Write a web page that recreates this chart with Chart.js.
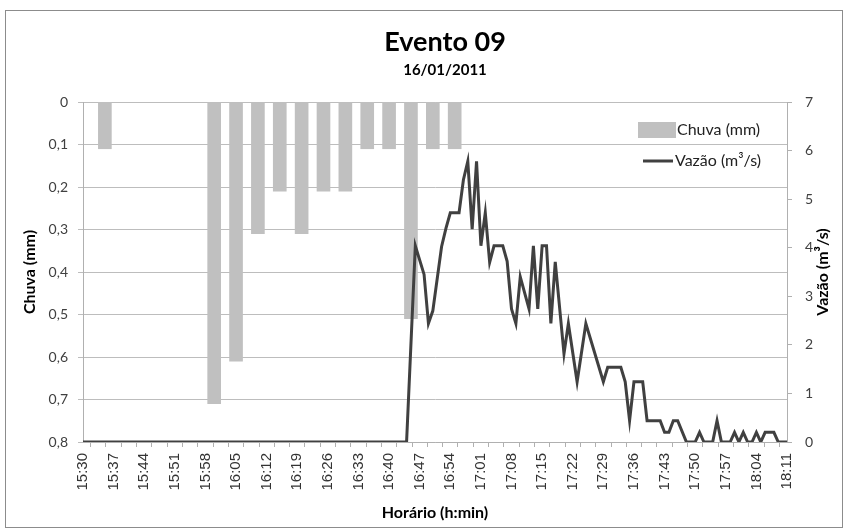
<!DOCTYPE html>
<html>
<head>
<meta charset="utf-8">
<script src="https://cdn.jsdelivr.net/npm/chart.js@4.4.0/dist/chart.umd.min.js"></script>
<style>
  body { margin: 0; background: #fff; }
</style>
</head>
<body>
<canvas id="chart" width="848" height="532"></canvas>
<script>
// chuva (mm) a cada 5 min
const rainTimes = ['15:35', '16:00', '16:05', '16:10', '16:15', '16:20', '16:25', '16:30', '16:35', '16:40', '16:45', '16:50', '16:55'];
const rainValues = [0.11, 0.71, 0.61, 0.31, 0.21, 0.31, 0.21, 0.21, 0.11, 0.11, 0.51, 0.11, 0.11];

// vazao (m3/s)
const flowTimes = ['15:30', '16:44', '16:46', '16:48', '16:49', '16:50', '16:52', '16:53', '16:54', '16:56', '16:57', '16:58', '16:59',
  '17:00', '17:01', '17:02', '17:03', '17:04', '17:06', '17:07', '17:08', '17:09', '17:10', '17:12', '17:13', '17:14', '17:15',
  '17:16', '17:17', '17:18', '17:20', '17:21', '17:23', '17:25', '17:29', '17:30', '17:33', '17:34', '17:35', '17:36', '17:38',
  '17:39', '17:42', '17:43', '17:44', '17:45', '17:46', '17:48', '17:50', '17:51', '17:52', '17:54', '17:55', '17:56', '17:58',
  '17:59', '18:00', '18:01', '18:02', '18:03', '18:04', '18:05', '18:06', '18:08', '18:09', '18:11'];
const flowValues = [0, 0, 4.04, 3.45, 2.44, 2.70, 4.02, 4.40, 4.72, 4.72, 5.40, 5.78, 4.38,
  5.78, 4.04, 4.72, 3.70, 4.04, 4.04, 3.72, 2.74, 2.44, 3.40, 2.74, 4.04, 2.74, 4.04,
  4.04, 2.44, 3.71, 1.82, 2.44, 1.24, 2.44, 1.24, 1.54, 1.54, 1.24, 0.44, 1.24, 1.24,
  0.44, 0.44, 0.20, 0.20, 0.44, 0.44, 0, 0, 0.20, 0, 0, 0.44, 0, 0,
  0.20, 0, 0.20, 0, 0, 0.20, 0, 0.20, 0.20, 0, 0];

const startTime = '15:30';
const endTime = '18:11';

function toMin(t) {
  var p = t.split(':');
  var s = startTime.split(':');
  return (parseInt(p[0]) * 60 + parseInt(p[1])) - (parseInt(s[0]) * 60 + parseInt(s[1]));
}
function toLabel(m) {
  var s = startTime.split(':');
  var total = parseInt(s[0]) * 60 + parseInt(s[1]) + m;
  var h = Math.floor(total / 60), mm = total % 60;
  return h + ':' + (mm < 10 ? '0' : '') + mm;
}

const calibri = 'Lato, "Open Sans", sans-serif';

// moldura, titulos e legenda dentro do grafico
const extras = {
  id: 'extras',
  beforeDraw(chart) {
    const ctx = chart.ctx;
    ctx.save();
    ctx.fillStyle = '#fff';
    ctx.fillRect(0, 0, chart.width, chart.height);
    ctx.strokeStyle = '#8c8c8c';
    ctx.lineWidth = 1;
    ctx.strokeRect(5.5, 10.5, 837, 517);
    ctx.restore();
  },
  afterDraw(chart) {
    const ctx = chart.ctx;
    const a = chart.chartArea;
    ctx.save();
    ctx.fillStyle = '#000';
    ctx.textAlign = 'center';
    ctx.textBaseline = 'alphabetic';
    ctx.font = 'bold 27px ' + calibri;
    ctx.fillText('Evento 09', 445, 51);
    ctx.font = 'bold 15px ' + calibri;
    ctx.fillText('16/01/2011', 445, 75);
    ctx.restore();

    ctx.save();
    ctx.fillStyle = '#000';
    ctx.font = 'bold 16px ' + calibri;
    ctx.textAlign = 'center';
    ctx.textBaseline = 'middle';
    ctx.translate(823, (a.top + a.bottom) / 2);
    ctx.rotate(-Math.PI / 2);
    ctx.fillText('Vazão (m³/s)', 0, 0);
    ctx.restore();

    ctx.save();
    var lx = a.right - 149, ly = a.top + 20;
    ctx.fillStyle = '#c0c0c0';
    ctx.fillRect(lx, ly, 38, 16);
    ctx.strokeStyle = '#404040';
    ctx.lineWidth = 3;
    ctx.beginPath();
    ctx.moveTo(lx + 5, ly + 39);
    ctx.lineTo(lx + 35, ly + 39);
    ctx.stroke();
    ctx.fillStyle = '#222';
    ctx.font = '16px ' + calibri;
    ctx.textAlign = 'left';
    ctx.textBaseline = 'middle';
    ctx.fillText('Chuva (mm)', lx + 39, ly + 8);
    ctx.fillText('Vazão (m³/s)', lx + 37, ly + 39);
    ctx.restore();
  }
};

new Chart(document.getElementById('chart'), {
  type: 'bar',
  data: {
    datasets: [
      {
        type: 'line',
        label: 'Vazão (m³/s)',
        data: flowTimes.map((t, i) => ({ x: toMin(t), y: flowValues[i] })),
        borderColor: '#404040',
        borderWidth: 3,
        pointRadius: 0,
        tension: 0,
        yAxisID: 'y2'
      },
      {
        type: 'bar',
        label: 'Chuva (mm)',
        data: rainTimes.map((t, i) => ({ x: toMin(t), y: rainValues[i] })),
        backgroundColor: '#c0c0c0',
        barThickness: 13,
        yAxisID: 'y'
      }
    ]
  },
  options: {
    responsive: false,
    animation: false,
    layout: { padding: { top: 102, left: 0, right: 0, bottom: 0 } },
    plugins: {
      legend: { display: false },
      tooltip: { enabled: false }
    },
    scales: {
      x: {
        type: 'linear',
        min: 0,
        max: toMin(endTime),
        offset: false,
        afterFit: (s) => { s.height = 90; },
        ticks: {
          stepSize: 3.5,
          autoSkip: false,
          maxRotation: 90,
          minRotation: 90,
          padding: 6,
          color: '#333',
          font: { family: '"Liberation Sans", Arial, sans-serif', size: 15 },
          callback: (v) => (v % 7 === 0 ? toLabel(v) : '')
        },
        grid: { drawOnChartArea: false, tickLength: 5, color: '#b0b0b0' },
        border: { color: '#b0b0b0' },
        title: {
          display: true,
          text: 'Horário (h:min)',
          color: '#000',
          font: { family: calibri, size: 16, weight: 'bold' },
          padding: { top: 0, bottom: 10 }
        }
      },
      y: {
        position: 'left',
        reverse: true,
        min: 0,
        max: 0.8,
        afterFit: (s) => { s.width = 83; },
        ticks: {
          stepSize: 0.1,
          padding: 10,
          color: '#404040',
          font: { family: calibri, size: 14 },
          callback: (v) => (v === 0 ? '0' : v.toFixed(1).replace('.', ','))
        },
        grid: { color: '#bdbdbd', tickLength: 5 },
        border: { color: '#b0b0b0' },
        title: {
          display: true,
          text: 'Chuva (mm)',
          color: '#000',
          font: { family: calibri, size: 16, weight: 'bold' },
          padding: { top: 20, bottom: 0 }
        }
      },
      y2: {
        position: 'right',
        min: 0,
        max: 7,
        afterFit: (s) => { s.width = 61; },
        ticks: {
          stepSize: 1,
          padding: 13,
          color: '#404040',
          font: { family: calibri, size: 14 }
        },
        grid: { drawOnChartArea: false, tickLength: 5, color: '#b0b0b0' },
        border: { color: '#b0b0b0' }
      }
    }
  },
  plugins: [extras]
});
</script>
</body>
</html>
